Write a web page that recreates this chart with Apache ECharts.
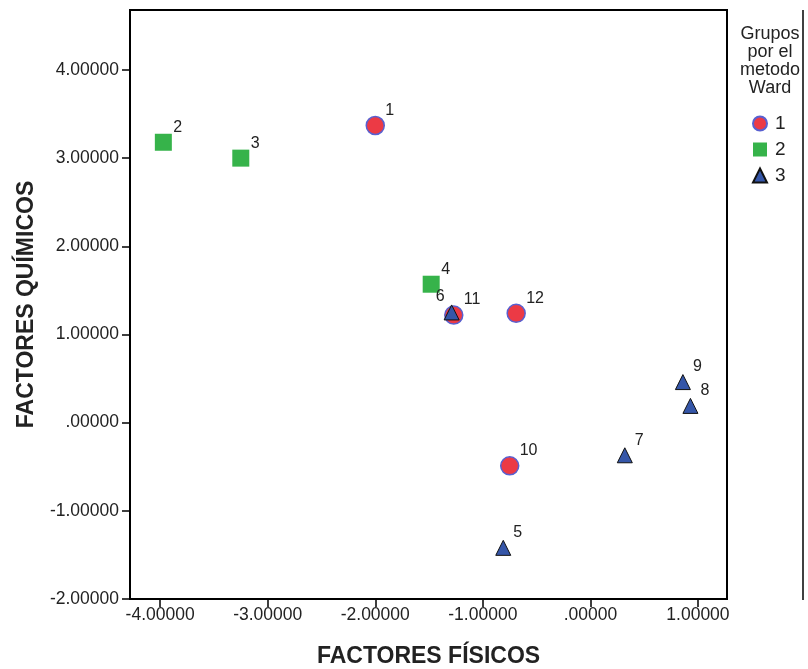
<!DOCTYPE html>
<html>
<head>
<meta charset="utf-8">
<script src="https://cdn.jsdelivr.net/npm/echarts@6/dist/echarts.min.js"></script>
<style>
  html, body { margin: 0; padding: 0; background: #fff; }
  #chart { width: 808px; height: 669px; }
</style>
</head>
<body>
<div id="chart"></div>
<script>
// puntos por grupo: [fisicos, quimicos, etiqueta]
const grupo1 = [[-2.00, 3.37, '1'], [-1.27, 1.22, '11'], [-0.69, 1.24, '12'], [-0.75, -0.49, '10']];
const grupo2 = [[-3.97, 3.18, '2'], [-3.25, 3.00, '3'], [-1.48, 1.57, '4']];
const grupo3 = [[-1.29, 1.25, '6'], [0.86, 0.46, '9'], [0.93, 0.19, '8'], [0.32, -0.37, '7'], [-0.81, -1.42, '5']];
const xTicks = [-4, -3, -2, -1, 0, 1];
const yTicks = [-2, -1, 0, 1, 2, 3, 4];

const font = 'Liberation Sans, Arial, sans-serif';
const fmt = v => v === 0 ? '.00000' : v.toFixed(5);

function label(d) {
  // el 6 se solapa con el 11, va a la izquierda
  if (d[2] === '6') return { show: true, position: 'inside', align: 'right', offset: [-7, -16] };
  return { show: true, position: 'inside', align: 'left', offset: [10, -15] };
}

function series(name, data, symbol, size, itemStyle) {
  return {
    name, type: 'scatter', symbol, symbolSize: size, itemStyle,
    data: data.map(d => ({ value: [d[0], d[1]], name: d[2], label: label(d) })),
    label: { formatter: p => p.name, color: '#222', fontSize: 16, fontFamily: font, verticalAlign: 'middle' },
  };
}

const chart = echarts.init(document.getElementById('chart'));
chart.setOption({
  animation: false,
  grid: { left: 130, top: 10, right: 81, bottom: 70, outerBoundsMode: 'none', containLabel: false,
    show: true, borderColor: '#000', borderWidth: 2 },
  graphic: [
    { type: 'text', x: 770, y: 25,
      style: { text: 'Grupos\npor el\nmetodo\nWard', align: 'center', verticalAlign: 'top',
        font: '18px ' + font, fill: '#222', lineHeight: 18 } },
    { type: 'line', shape: { x1: 803, y1: 10, x2: 803, y2: 600 }, style: { stroke: '#000', lineWidth: 1.5 } },
  ],
  legend: {
    orient: 'vertical', left: 747, top: 109, itemGap: 7, itemWidth: 14, itemHeight: 14,
    textStyle: { fontSize: 19, color: '#222', fontFamily: font, padding: [0, 0, 0, 3] },
    data: ['1', '2', '3'],
  },
  xAxis: {
    type: 'value', min: -4.28, max: 1.27,
    name: 'FACTORES FÍSICOS', nameLocation: 'middle', nameGap: 46,
    nameTextStyle: { fontSize: 23, fontWeight: 'bold', color: '#222', fontFamily: font },
    axisLine: { onZero: false, lineStyle: { color: '#000', width: 2 } },
    axisTick: { show: true, length: 8, lineStyle: { color: '#000', width: 1.5 }, customValues: xTicks },
    axisLabel: { customValues: xTicks, formatter: fmt, fontSize: 17.5, color: '#222', fontFamily: font, margin: 7 },
    splitLine: { show: false },
  },
  yAxis: {
    type: 'value', min: -2, max: 4.68,
    name: 'FACTORES QUÍMICOS', nameLocation: 'middle', nameGap: 92,
    nameTextStyle: { fontSize: 23, fontWeight: 'bold', color: '#222', fontFamily: font },
    axisLine: { onZero: false, lineStyle: { color: '#000', width: 2 } },
    axisTick: { show: true, length: 8, lineStyle: { color: '#000', width: 1.5 }, customValues: yTicks },
    axisLabel: { customValues: yTicks, formatter: fmt, fontSize: 17.5, color: '#222', fontFamily: font, margin: 11 },
    splitLine: { show: false },
  },
  series: [
    series('1', grupo1, 'circle', 18, { color: '#ec3a45', borderColor: '#5860d0', borderWidth: 1.5, opacity: 1 }),
    series('2', grupo2, 'rect', 17, { color: '#36b34a', opacity: 1 }),
    series('3', grupo3, 'triangle', 15, { color: '#3556a8', borderColor: '#111', borderWidth: 1, opacity: 1 }),
  ],
});
</script>
</body>
</html>
